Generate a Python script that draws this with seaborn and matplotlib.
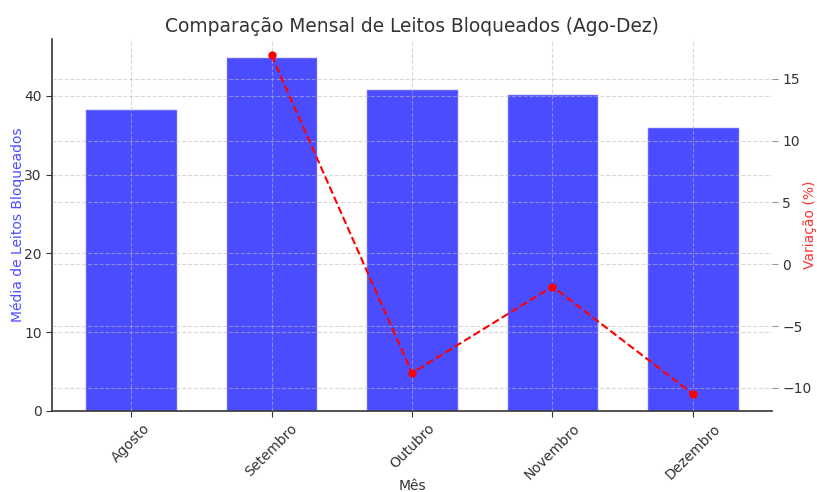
import matplotlib
matplotlib.use("Agg")
import matplotlib.pyplot as plt
import seaborn as sns
import numpy as np
import pandas as pd

meses = ["Agosto", "Setembro", "Outubro", "Novembro", "Dezembro"]
media_leitos = [38.3, 44.9, 40.9, 40.2, 36.0]
variacao = [np.nan, 16.9, -8.8, -1.8, -10.5]

df = pd.DataFrame({"Mês": meses, "Media": media_leitos, "Variacao": variacao})
df["pos"] = np.arange(len(df))

sns.set_style("white")
plt.rcParams["font.family"] = ["DejaVu Sans"]
txt = "#333333"

fig = plt.figure(figsize=(8.17, 4.92), dpi=100)
ax1 = fig.add_axes([52/817, 1-411/492, (772-52)/817, (411-39)/492])

sns.barplot(data=df, x="Mês", y="Media", color=(0, 0, 1), alpha=0.7,
            width=0.65, saturation=1, ax=ax1)
ax1.set_xlim(-0.5625, 4.5625)
ax1.set_ylim(0, 47.2)
ax1.set_ylabel("Média de Leitos Bloqueados", color="#4d4dff", fontsize=10, labelpad=-1)
ax1.set_xlabel("Mês", color=txt, fontsize=10, labelpad=-2)
ax1.tick_params(axis="x", rotation=45, colors=txt, labelsize=10)
ax1.tick_params(axis="y", colors=txt, labelsize=10, left=True, length=4)
ax1.tick_params(axis="x", bottom=True, length=4)
ax1.grid(True, linestyle="--", color="#bbbbbb", alpha=0.55, linewidth=0.8)
ax1.set_axisbelow(False)
for s in ["top", "right"]:
    ax1.spines[s].set_visible(False)
for s in ["left", "bottom"]:
    ax1.spines[s].set_color(txt)
    ax1.spines[s].set_linewidth(1.2)

ax2 = ax1.twinx()
sns.lineplot(data=df, x="pos", y="Variacao", color="red", linestyle="--",
             marker="o", markersize=6, markeredgewidth=0, ax=ax2)
ax2.set_ylim(-11.87, 18.22)
ax2.set_xlim(-0.5625, 4.5625)
ax2.set_ylabel("Variação (%)", color="#ff3333", fontsize=10, labelpad=-6)
ax2.tick_params(axis="y", colors=txt, labelsize=10, right=True, length=4)
ax2.tick_params(axis="y", color="#999999")
ax2.grid(True, axis="y", linestyle="--", color="#bbbbbb", alpha=0.55, linewidth=0.8)
for s in ["top", "right", "left", "bottom"]:
    ax2.spines[s].set_visible(False)

fig.suptitle("Comparação Mensal de Leitos Bloqueados (Ago-Dez)", x=(52+772)/2/817,
             y=1-27/492, va="center", fontsize=13.4, color=txt)

fig.savefig("out.png", dpi=100)
